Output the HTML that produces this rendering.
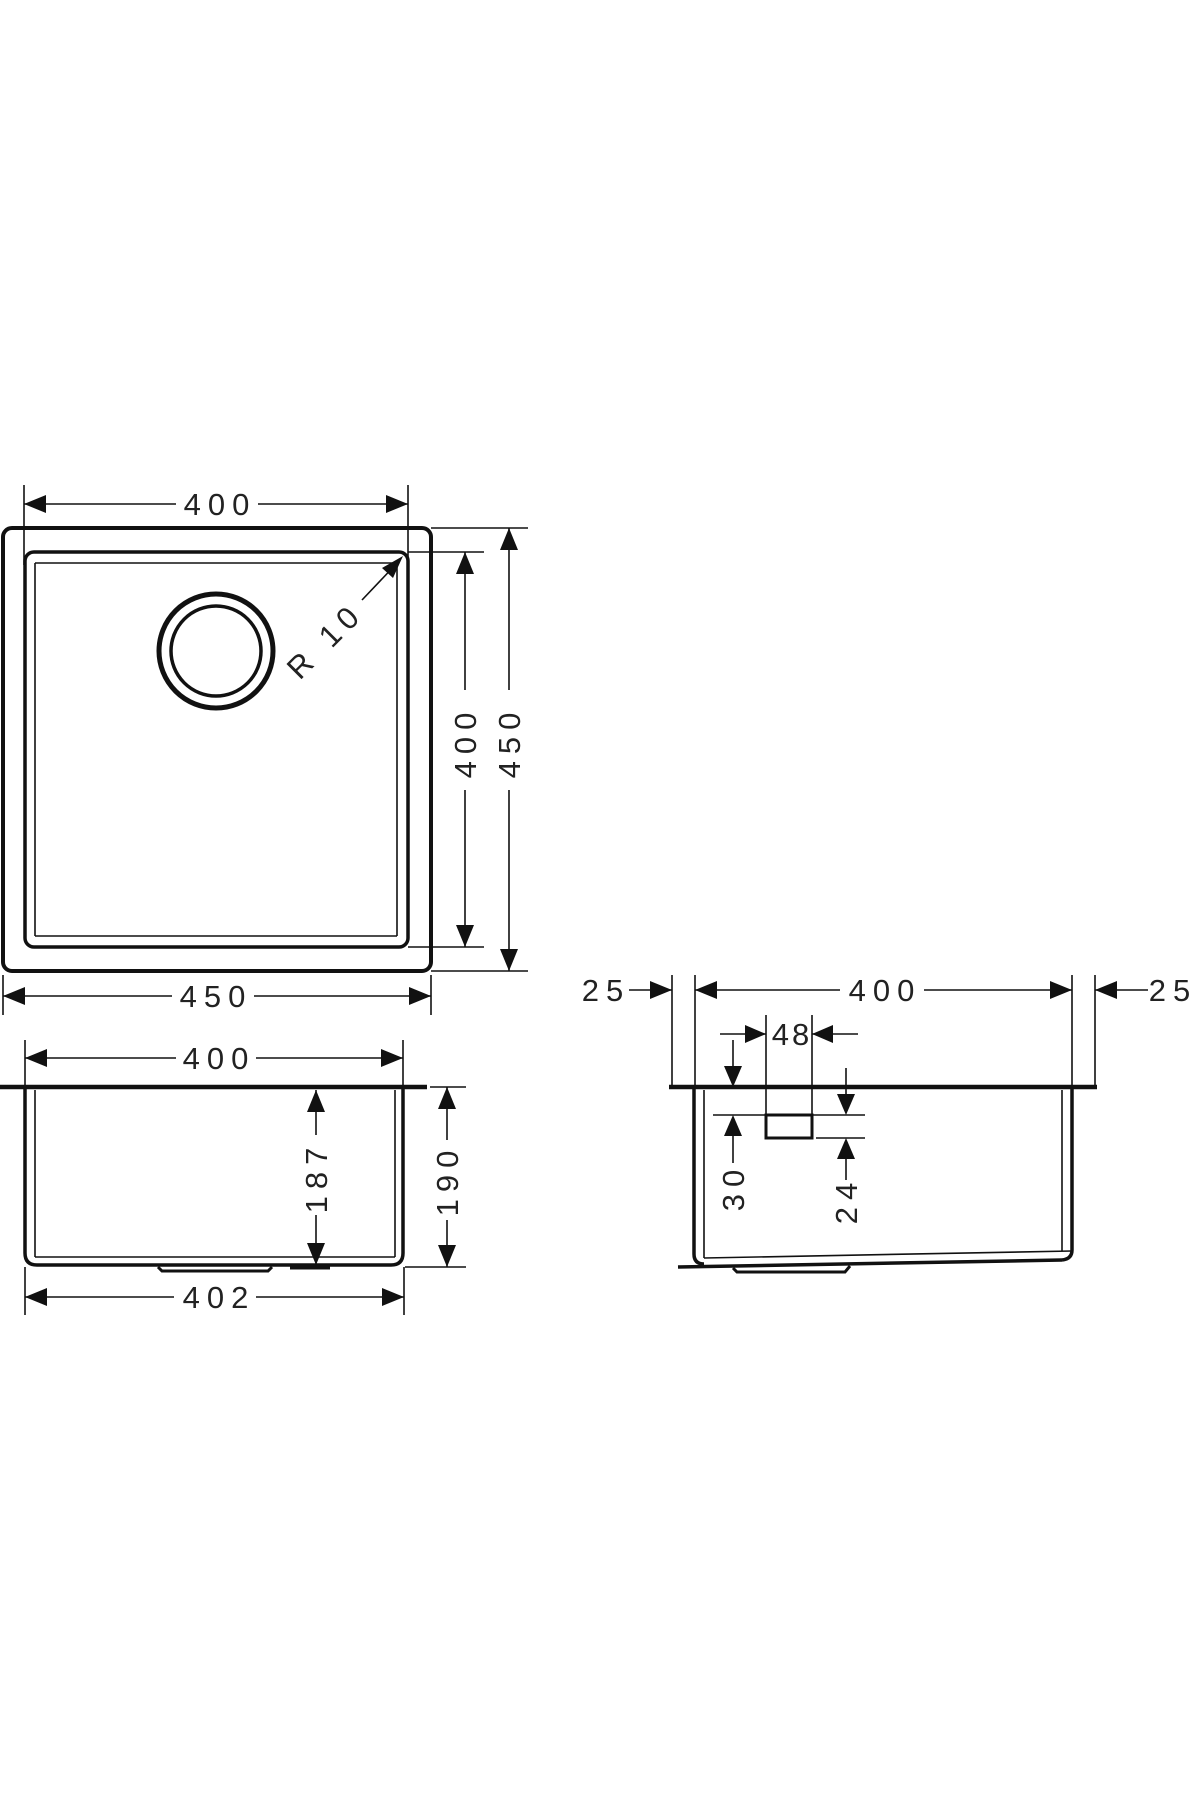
<!DOCTYPE html>
<html><head><meta charset="utf-8"><style>
html,body{margin:0;padding:0;background:#fff;}
svg{display:block;}
text{font-family:"Liberation Sans",sans-serif;font-size:31px;fill:#222;letter-spacing:7px;}
</style></head><body>
<svg width="1200" height="1800" viewBox="0 0 1200 1800" xmlns="http://www.w3.org/2000/svg">
<g stroke="#111" fill="none" stroke-width="1.6">
<!-- TOP VIEW -->
<!-- 400 top -->
<line x1="24" y1="485" x2="24" y2="565"/><line x1="408" y1="485" x2="408" y2="565"/>
<line x1="24" y1="504" x2="176" y2="504"/><line x1="258" y1="504" x2="408" y2="504"/>
<!-- outer/inner rect -->
<rect x="3" y="528" width="428" height="443" rx="9" stroke-width="4"/>
<rect x="25" y="552" width="383" height="395" rx="9" stroke-width="3.5"/>
<line x1="35" y1="563" x2="35" y2="936"/><line x1="397" y1="563" x2="397" y2="936"/>
<line x1="35" y1="563" x2="397" y2="563"/><line x1="35" y1="936" x2="397" y2="936"/>
<circle cx="216" cy="651" r="57" stroke-width="5"/>
<circle cx="216" cy="651" r="45" stroke-width="3.5"/>
<!-- R10 -->
<line x1="362" y1="600" x2="400" y2="560"/>
<!-- 400 vertical -->
<line x1="408" y1="552" x2="484" y2="552"/><line x1="408" y1="947" x2="484" y2="947"/>
<line x1="465" y1="552" x2="465" y2="690"/><line x1="465" y1="790" x2="465" y2="947"/>
<!-- 450 vertical -->
<line x1="431" y1="528" x2="528" y2="528"/><line x1="431" y1="971" x2="528" y2="971"/>
<line x1="509" y1="528" x2="509" y2="690"/><line x1="509" y1="790" x2="509" y2="971"/>
<!-- 450 bottom -->
<line x1="3" y1="975" x2="3" y2="1015"/><line x1="431" y1="975" x2="431" y2="1015"/>
<line x1="3" y1="996" x2="172" y2="996"/><line x1="254" y1="996" x2="431" y2="996"/>

<!-- LEFT SIDE VIEW -->
<line x1="25" y1="1040" x2="25" y2="1087"/><line x1="403" y1="1040" x2="403" y2="1087"/>
<line x1="25" y1="1058" x2="176" y2="1058"/><line x1="256" y1="1058" x2="403" y2="1058"/>
<line x1="0" y1="1087" x2="427" y2="1087" stroke-width="4.5"/>
<path d="M25,1089 V1253 Q25,1265 37,1265 H391 Q403,1265 403,1253 V1089" stroke-width="3.5"/>
<line x1="35" y1="1090" x2="35" y2="1257"/><line x1="395" y1="1090" x2="395" y2="1257"/>
<line x1="35" y1="1257" x2="395" y2="1257"/>
<path d="M158,1267 L162,1271 H268 L272,1267" stroke-width="3"/>
<line x1="290" y1="1268" x2="330" y2="1268" stroke-width="3"/>
<line x1="316" y1="1090" x2="316" y2="1135"/><line x1="316" y1="1215" x2="316" y2="1265"/>
<line x1="430" y1="1087" x2="466" y2="1087"/><line x1="405" y1="1267" x2="466" y2="1267"/>
<line x1="447" y1="1087" x2="447" y2="1140"/><line x1="447" y1="1220" x2="447" y2="1267"/>
<line x1="25" y1="1267" x2="25" y2="1315"/><line x1="404" y1="1267" x2="404" y2="1315"/>
<line x1="25" y1="1297" x2="174" y2="1297"/><line x1="256" y1="1297" x2="404" y2="1297"/>

<!-- RIGHT VIEW -->
<line x1="672" y1="975" x2="672" y2="1087"/><line x1="695" y1="975" x2="695" y2="1087"/>
<line x1="1072" y1="975" x2="1072" y2="1087"/><line x1="1095" y1="975" x2="1095" y2="1087"/>
<line x1="629" y1="990" x2="672" y2="990"/>
<line x1="695" y1="990" x2="840" y2="990"/><line x1="924" y1="990" x2="1072" y2="990"/>
<line x1="1095" y1="990" x2="1148" y2="990"/>
<line x1="669" y1="1087" x2="1097" y2="1087" stroke-width="4.5"/>
<path d="M694,1089 V1254 Q694,1264 704,1264" stroke-width="3.5"/>
<path d="M1072,1089 V1250 Q1072,1259 1062,1260" stroke-width="3.5"/>
<line x1="678" y1="1267" x2="1062" y2="1260" stroke-width="3.5"/>
<line x1="704" y1="1090" x2="704" y2="1258"/><line x1="1062" y1="1090" x2="1062" y2="1251"/>
<line x1="704" y1="1258" x2="1072" y2="1251"/>
<path d="M733,1268 L737,1272 H845 L850,1266" stroke-width="3"/>
<!-- 48 -->
<line x1="766" y1="1015" x2="766" y2="1115"/><line x1="812" y1="1015" x2="812" y2="1115"/>
<line x1="720" y1="1034" x2="766" y2="1034"/><line x1="812" y1="1034" x2="858" y2="1034"/>
<rect x="766" y="1115" width="46" height="23" stroke-width="3"/>
<!-- 30 -->
<line x1="733" y1="1040" x2="733" y2="1070"/>
<line x1="713" y1="1115" x2="865" y2="1115"/>
<line x1="816" y1="1138" x2="865" y2="1138"/>
<line x1="733" y1="1130" x2="733" y2="1163"/>
<!-- 24 -->
<line x1="846" y1="1068" x2="846" y2="1100"/>
<line x1="846" y1="1150" x2="846" y2="1180"/>
</g>

<g fill="#111" stroke="none">
<!-- top view arrows -->
<polygon points="24,504 46,495 46,513"/><polygon points="408,504 386,495 386,513"/>
<polygon points="403,556 382,568 393,578"/>
<polygon points="465,552 456,574 474,574"/><polygon points="465,947 456,925 474,925"/>
<polygon points="509,528 500,550 518,550"/><polygon points="509,971 500,949 518,949"/>
<polygon points="3,996 25,987 25,1005"/><polygon points="431,996 409,987 409,1005"/>
<!-- left side arrows -->
<polygon points="25,1058 47,1049 47,1067"/><polygon points="403,1058 381,1049 381,1067"/>
<polygon points="316,1090 307,1112 325,1112"/><polygon points="316,1265 307,1243 325,1243"/>
<polygon points="447,1087 438,1109 456,1109"/><polygon points="447,1267 438,1245 456,1245"/>
<polygon points="25,1297 47,1288 47,1306"/><polygon points="404,1297 382,1288 382,1306"/>
<!-- right view arrows -->
<polygon points="672,990 650,981 650,999"/><polygon points="695,990 717,981 717,999"/>
<polygon points="1072,990 1050,981 1050,999"/><polygon points="1095,990 1117,981 1117,999"/>
<polygon points="766,1034 745,1025 745,1043"/><polygon points="812,1034 833,1025 833,1043"/>
<polygon points="733,1087 724,1066 742,1066"/><polygon points="733,1115 724,1136 742,1136"/>
<polygon points="846,1115 837,1094 855,1094"/><polygon points="846,1138 837,1159 855,1159"/>
</g>

<g>
<text x="220" y="515" text-anchor="middle">400</text>
<text x="216" y="1007" text-anchor="middle">450</text>
<text transform="translate(327,642) rotate(-45)" text-anchor="middle" dominant-baseline="middle">R 10</text>
<text transform="translate(476,742) rotate(-90)" text-anchor="middle">400</text>
<text transform="translate(520,742) rotate(-90)" text-anchor="middle">450</text>

<text x="219" y="1069" text-anchor="middle">400</text>
<text transform="translate(327,1177) rotate(-90)" text-anchor="middle">187</text>
<text transform="translate(458,1180) rotate(-90)" text-anchor="middle">190</text>
<text x="219" y="1308" text-anchor="middle">402</text>

<text x="606" y="1001" text-anchor="middle">25</text>
<text x="885" y="1001" text-anchor="middle">400</text>
<text x="1173" y="1001" text-anchor="middle">25</text>
<text x="792" y="1045" text-anchor="middle" style="letter-spacing:3px">48</text>
<text transform="translate(744,1187) rotate(-90)" text-anchor="middle">30</text>
<text transform="translate(857,1200) rotate(-90)" text-anchor="middle">24</text>
</g>
</svg>
</body></html>
